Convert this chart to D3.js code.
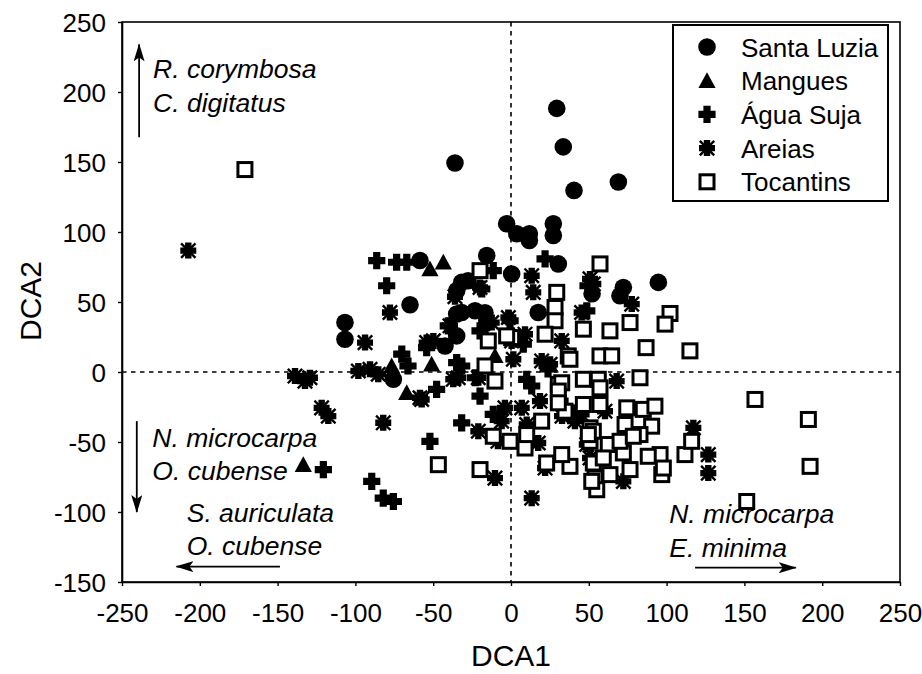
<!DOCTYPE html>
<html>
<head>
<meta charset="utf-8">
<script src="https://cdn.jsdelivr.net/npm/d3@7"></script>
<style>
  html, body { margin: 0; padding: 0; background: #fff; }
  svg { display: block; font-family: Arial, "Liberation Sans", sans-serif; }
</style>
</head>
<body>
<svg id="chart" width="922" height="674"></svg>
<script>
// DCA ordination scores per site (DCA1, DCA2)
const santaLuzia = [
  [-36.0, 149.3], [29.4, 188.3], [33.6, 160.8], [40.5, 129.7], [69.0, 135.7],
  [-2.8, 105.9], [3.7, 98.7], [11.8, 98.7], [11.8, 93.9], [27.2, 105.9],
  [27.2, 97.5], [30.4, 77.2], [0.4, 70.0], [94.7, 64.0], [72.2, 60.4],
  [70.0, 54.5], [52.1, 55.9], [-58.5, 79.6], [-15.6, 83.2], [-31.7, 64.0],
  [-27.6, 65.2], [-64.9, 48.0], [-106.7, 35.3], [-106.7, 23.4], [-34.9, 41.4],
  [-42.4, 18.6], [-34.9, 58.1], [-23.1, 43.7], [-16.7, 42.3], [17.5, 42.5],
  [-34.9, 25.8], [-75.6, -5.2], [-31.7, 42.5]
];
const mangues = [
  [-52.1, 73.6], [-43.5, 78.4], [-133.5, -66.2], [-76.7, 4.3], [-51.0, 5.5],
  [-67.0, -14.8], [-10.3, 11.5]
];
const aguaSuja = [
  [-86.3, 79.6], [-73.5, 78.4], [-67.0, 78.4], [-79.9, 61.6], [-11.4, 72.4],
  [21.9, 80.8], [-70.2, 12.7], [-66.2, 4.3], [-40.3, 33.0], [-34.9, 6.7],
  [-54.2, 17.4], [-19.9, -17.2], [-31.7, -36.3], [-52.1, -49.5], [-120.6, -69.8],
  [-89.5, -78.1], [-82.1, -90.1], [-75.6, -92.5], [-11.4, -30.3], [-0.6, 36.6],
  [-15.6, 35.3], [-47.8, -12.4], [-18.8, 59.3], [-19.9, 29.4], [7.9, 19.9],
  [-22.9, -4.1], [13.3, -10.0], [10.1, -5.2], [48.7, 43.7], [-31.7, 4.3],
  [49.5, 61.6], [31.5, -20.8], [23.8, 2.2]
];
const areias = [
  [-207.4, 86.7], [-138.8, -2.9], [-132.4, -6.5], [-129.2, -4.1], [-121.7, -25.6],
  [-117.4, -31.5], [-82.1, -36.3], [-10.3, -75.8], [-77.8, 42.5], [-93.8, 21.0],
  [-98.1, 0.7], [-90.6, 1.9], [-85.3, -1.6], [-54.2, 21.0], [-49.9, 22.2],
  [-37.1, -5.2], [-57.4, -19.6], [-39.2, 33.0], [-19.9, 60.4], [13.3, 68.8],
  [14.3, 56.9], [45.4, 42.5], [-1.7, 38.9], [-12.4, 35.3], [9.0, 27.0],
  [32.6, 22.2], [19.7, 7.9], [1.5, 9.1], [50.8, 66.5], [77.6, 48.5],
  [52.9, 62.9], [-21.0, -4.1], [-3.9, -25.6], [6.9, -25.6], [-6.0, -35.1],
  [-21.0, -42.3], [10.1, -37.5], [17.5, -50.7], [13.3, -90.1], [21.9, -68.6],
  [45.4, -30.3], [67.9, -6.5], [117.2, -39.9], [126.8, -59.0], [126.8, -72.2],
  [72.2, -78.1], [41.1, -35.1], [60.4, -28.0], [0.4, 22.2], [-58.5, -18.4],
  [-36.0, 53.8], [-33.9, -4.1], [25.1, 5.5], [50.8, -61.4], [18.6, -20.8],
  [32.8, -31.5], [48.7, -51.8], [-8.4, -49.5]
];
const tocantins = [
  [-171.0, 144.6], [-19.9, 72.4], [57.2, 77.2], [29.4, 56.9], [28.3, 46.1],
  [28.3, 36.6], [-14.6, 22.2], [0.4, 24.6], [21.9, 27.0], [36.8, 11.5],
  [46.5, 30.6], [-16.7, 4.3], [63.6, 29.4], [76.5, 35.3], [102.2, 41.8],
  [99.0, 34.2], [86.8, 17.4], [115.0, 15.1], [57.2, 11.5], [64.7, 11.5],
  [82.9, -4.1], [37.9, 9.1], [56.1, -5.2], [46.5, -5.2], [30.4, -8.8],
  [46.5, -23.2], [57.2, -23.2], [35.8, -29.2], [19.7, -35.1], [74.4, -25.6],
  [85.0, -26.7], [92.5, -24.4], [90.4, -38.7], [73.3, -37.5], [50.8, -39.9],
  [50.8, -49.5], [62.5, -51.8], [72.2, -57.8], [82.9, -44.7], [95.8, -59.0],
  [96.9, -73.3], [76.5, -69.7], [63.6, -73.3], [52.9, -65.0], [54.0, -75.8],
  [55.1, -84.1], [37.9, -67.4], [22.9, -65.0], [9.0, -54.3], [-0.6, -49.5],
  [111.8, -59.0], [116.1, -49.5], [156.8, -19.6], [191.1, -33.9], [192.2, -67.4],
  [151.5, -92.5], [-2.8, 25.8], [57.2, -11.3], [52.9, -42.3], [70.1, -49.5],
  [78.6, -45.9], [88.2, -60.2], [59.3, -61.4], [97.9, -68.6], [-10.3, -6.5],
  [-11.4, -45.9], [10.1, -44.7], [32.6, -59.0], [-19.9, -69.7], [32.6, -7.7],
  [30.4, -13.6], [34.7, -28.0], [30.4, -22.0], [49.7, -44.7], [51.9, -78.1],
  [-46.7, -66.2]
];

const siteNames = ["Santa Luzia", "Mangues", "Água Suja", "Areias", "Tocantins"];
const xTicks = [-250, -200, -150, -100, -50, 0, 50, 100, 150, 200, 250];
const yTicks = [-150, -100, -50, 0, 50, 100, 150, 200, 250];
const xTitle = "DCA1";
const yTitle = "DCA2";

// Species gradients along the axes: text lines and first baseline (DCA units)
const speciesNotes = [
  { lines: ["R. corymbosa", "C. digitatus"], x: -230, y: 210 },
  { lines: ["N. microcarpa", "O. cubense"], x: -230.5, y: -53.5 },
  { lines: ["S. auriculata", "O. cubense"], x: -208.4, y: -106.8 },
  { lines: ["N. microcarpa", "E. minima"], x: 101.7, y: -108 }
];
// Arrows: from (x1,y1) to (x2,y2) in DCA units
const speciesArrows = [
  { x1: -239, y1: 167.7, x2: -239, y2: 234 },
  { x1: -240.5, y1: -35.1, x2: -240.5, y2: -100 },
  { x1: -148.5, y1: -139, x2: -215, y2: -139 },
  { x1: 118.3, y1: -139.8, x2: 183, y2: -139.8 }
];

const svg = d3.select("#chart");
const x = d3.scaleLinear().domain([-250, 250]).range([122, 900]);
const y = d3.scaleLinear().domain([-150, 250]).range([582, 22]);

// zero lines
const g0 = svg.append("g").attr("stroke", "#000").attr("stroke-width", 1.6)
  .attr("stroke-dasharray", "4.5,4.5");
g0.append("line").attr("x1", x(0)).attr("x2", x(0)).attr("y1", y(250)).attr("y2", y(-150));
g0.append("line").attr("x1", x(-250)).attr("x2", x(250)).attr("y1", y(0)).attr("y2", y(0));

// marker shapes
const CR = 8.8;
function plusPath(h, t) {
  return `M${-t},${-h}H${t}V${-t}H${h}V${t}H${t}V${h}H${-t}V${t}H${-h}V${-t}H${-t}Z`;
}
function drawCircle(sel) {
  sel.append("circle").attr("r", CR).attr("fill", "#000");
}
function drawTriangle(sel) {
  sel.append("path").attr("d", "M0,-8.5L8.6,7.2L-8.6,7.2Z").attr("fill", "#000");
}
function drawPlus(sel) {
  sel.append("path").attr("d", plusPath(8.6, 3.6)).attr("fill", "#000");
}
function drawStar(sel) {
  sel.append("path").attr("d", plusPath(8, 3.2)).attr("fill", "#000");
  sel.append("path").attr("d", "M-7.2,-7.2L7.2,7.2M7.2,-7.2L-7.2,7.2")
    .attr("stroke", "#000").attr("stroke-width", 2.4).attr("fill", "none");
  sel.append("circle").attr("r", 4.4).attr("fill", "#000");
}
function drawSquare(sel) {
  sel.append("rect").attr("x", -7).attr("y", -7).attr("width", 14).attr("height", 14)
    .attr("fill", "#fff").attr("stroke", "#000").attr("stroke-width", 3);
}
const drawers = [drawCircle, drawTriangle, drawPlus, drawStar, drawSquare];
const seriesData = [santaLuzia, mangues, aguaSuja, areias, tocantins];

seriesData.forEach((data, i) => {
  svg.append("g").attr("class", "series")
    .selectAll("g").data(data).join("g")
    .attr("transform", d => `translate(${x(d[0])},${y(d[1])})`)
    .each(function () { drawers[i](d3.select(this)); });
});

// frame
svg.append("rect").attr("x", x(-250)).attr("y", y(250))
  .attr("width", x(250) - x(-250)).attr("height", y(-150) - y(250))
  .attr("fill", "none").attr("stroke", "#000").attr("stroke-width", 1.6);

// axes
const xAxis = svg.append("g").attr("transform", `translate(0,${y(-150)})`)
  .call(d3.axisBottom(x).tickValues(xTicks).tickSize(4).tickSizeOuter(0).tickFormat(d3.format("d")));
xAxis.select(".domain").attr("stroke-width", 1.6);
xAxis.selectAll(".tick line").attr("stroke-width", 1.4);
xAxis.selectAll("text").attr("font-size", 26).attr("fill", "#000")
  .attr("y", 40).attr("dy", 0).text(d => String(d).replace("−", "-"));

const yAxis = svg.append("g").attr("transform", `translate(${x(-250)},0)`)
  .call(d3.axisLeft(y).tickValues(yTicks).tickSize(4).tickSizeOuter(0).tickFormat(d3.format("d")));
yAxis.select(".domain").attr("stroke-width", 1.6);
yAxis.selectAll(".tick line").attr("stroke-width", 1.4);
yAxis.selectAll("text").attr("font-size", 26).attr("fill", "#000")
  .attr("x", -16).attr("dy", "0.36em").text(d => String(d).replace("−", "-"));

// axis titles
svg.append("text").attr("x", x(0)).attr("y", 666).attr("text-anchor", "middle")
  .attr("font-size", 30).text(xTitle);
svg.append("text").attr("transform", `translate(41,${y(50) - 1}) rotate(-90)`)
  .attr("text-anchor", "middle").attr("font-size", 30).text(yTitle);

// species notes
speciesNotes.forEach(n => {
  n.lines.forEach((t, k) => {
    svg.append("text").attr("x", x(n.x)).attr("y", y(n.y) + k * 33.5)
      .attr("font-size", 26.5).attr("font-style", "italic").text(t);
  });
});

// arrows
const defs = svg.append("defs");
defs.append("marker").attr("id", "ah").attr("viewBox", "0 0 18 11")
  .attr("refX", 17).attr("refY", 5.5).attr("markerWidth", 18).attr("markerHeight", 11)
  .attr("markerUnits", "userSpaceOnUse").attr("orient", "auto")
  .append("path").attr("d", "M0,0L18,5.5L0,11L4,5.5Z").attr("fill", "#000");
speciesArrows.forEach(a => {
  svg.append("line").attr("x1", x(a.x1)).attr("y1", y(a.y1))
    .attr("x2", x(a.x2)).attr("y2", y(a.y2))
    .attr("stroke", "#000").attr("stroke-width", 1.8).attr("marker-end", "url(#ah)");
});

// legend
const lg = svg.append("g").attr("transform", "translate(673,25)");
lg.append("rect").attr("width", 215).attr("height", 176)
  .attr("fill", "#fff").attr("stroke", "#000").attr("stroke-width", 2);
siteNames.forEach((name, i) => {
  const row = lg.append("g").attr("transform", `translate(0,${22 + i * 33.7})`);
  const m = row.append("g").attr("transform", "translate(34,0)");
  drawers[i](m);
  row.append("text").attr("x", 68).attr("y", 9.5).attr("font-size", 26).text(name);
});
</script>
</body>
</html>
